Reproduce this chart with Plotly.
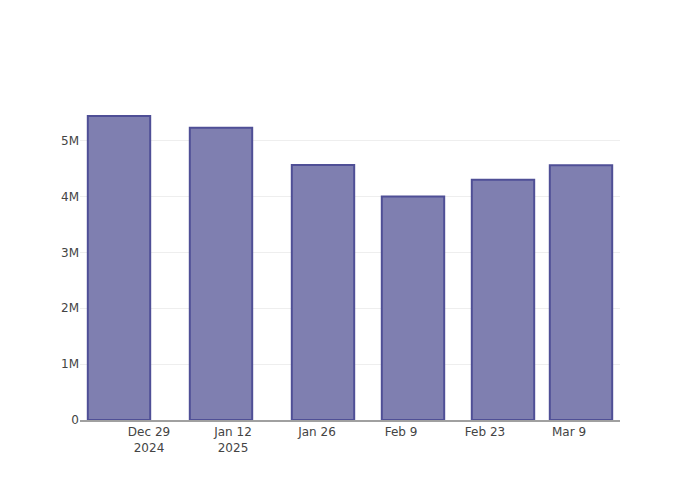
import plotly.graph_objects as go

dates = ["2024-12-24", "2025-01-10", "2025-01-27", "2025-02-11", "2025-02-26", "2025-03-11"]
values = [5440000, 5230000, 4565000, 4000000, 4300000, 4560000]

fig = go.Figure(
    go.Bar(
        x=dates,
        y=values,
        marker=dict(color="#7f7fb0", line=dict(color="#4f4f96", width=2)),
    )
)
fig.update_layout(
    width=700,
    height=500,
    template="none",
    plot_bgcolor="white",
    paper_bgcolor="white",
    margin=dict(l=80, r=80, t=100, b=80),
    font=dict(family="DejaVu Sans", size=12, color="#444"),
    showlegend=False,
)
fig.update_xaxes(
    type="date",
    showgrid=False,
    showline=True,
    linecolor="#a0a0a0",
    linewidth=2,
    ticks="",
    dtick=14 * 24 * 3600 * 1000,
    tick0="2024-12-29",
    tickformat="%b %-d\n%Y",
)
fig.update_yaxes(
    showgrid=True,
    gridcolor="#eeeeee",
    showline=False,
    zeroline=False,
    ticks="",
)
fig.write_html(
    "out.html",
    config={"displayModeBar": False},
    post_script="document.body.style.margin='0';",
)
